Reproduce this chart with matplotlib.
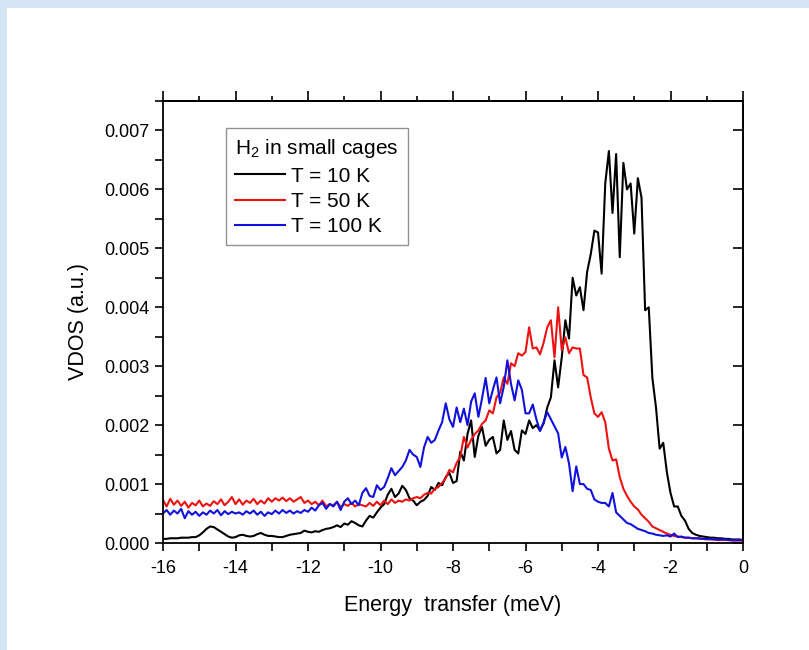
import numpy as np
import matplotlib.pyplot as plt
from matplotlib.patches import Rectangle
from matplotlib.ticker import MultipleLocator, NullFormatter, FormatStrFormatter

plt.rcParams['font.family'] = ['Liberation Sans', 'DejaVu Sans']
plt.rcParams['mathtext.fontset'] = 'custom'
plt.rcParams['mathtext.rm'] = 'Liberation Sans'
plt.rcParams['axes.unicode_minus'] = False

# energy grid (meV), 0.1 meV steps from -16 to 0
energy = np.round(np.arange(-16.0, 0.05, 0.1), 1)

# VDOS values in units of 1e-3 (a.u.)
vdos_10K = [
    0.07, 0.07, 0.08, 0.08, 0.08, 0.09, 0.09, 0.09, 0.10, 0.10,   # -16.0 .. -15.1
    0.13, 0.18, 0.24, 0.28, 0.27, 0.23, 0.19, 0.15, 0.11, 0.09,   # -15.0 .. -14.1
    0.10, 0.13, 0.14, 0.12, 0.11, 0.12, 0.15, 0.17, 0.14, 0.12,   # -14.0 .. -13.1
    0.12, 0.11, 0.10, 0.10, 0.12, 0.14, 0.15, 0.16, 0.17, 0.21,   # -13.0 .. -12.1
    0.19, 0.18, 0.20, 0.19, 0.22, 0.24, 0.25, 0.27, 0.30, 0.27,   # -12.0 .. -11.1
    0.33, 0.31, 0.37, 0.34, 0.30, 0.28, 0.38, 0.46, 0.43, 0.52,   # -11.0 .. -10.1
    0.60, 0.66, 0.82, 0.92, 0.78, 0.84, 0.97, 0.90, 0.76, 0.72,   # -10.0 .. -9.1
    0.64, 0.70, 0.73, 0.80, 0.95, 0.90, 1.02, 0.98, 1.12, 1.19,   # -9.0 .. -8.1
    1.02, 1.05, 1.55, 1.40, 1.85, 2.08, 1.46, 1.82, 1.97, 1.65,   # -8.0 .. -7.1
    1.75, 1.80, 1.52, 1.58, 2.08, 1.75, 1.90, 1.58, 1.52, 1.91,   # -7.0 .. -6.1
    1.85, 2.08, 1.95, 2.00, 1.91, 2.03, 2.30, 2.47, 3.10, 2.64,   # -6.0 .. -5.1
    3.15, 3.78, 3.47, 4.50, 4.20, 4.34, 3.95, 4.60, 4.90, 5.30,   # -5.0 .. -4.1
    5.27, 4.57, 6.10, 6.65, 5.60, 6.60, 4.85, 6.45, 6.00, 6.10,   # -4.0 .. -3.1
    5.25, 6.19, 5.86, 3.95, 4.00, 2.80, 2.30, 1.60, 1.70, 1.20,   # -3.0 .. -2.1
    0.85, 0.62, 0.62, 0.46, 0.38, 0.24, 0.17, 0.14, 0.12, 0.11,   # -2.0 .. -1.1
    0.10, 0.09, 0.09, 0.08, 0.08, 0.07, 0.07, 0.06, 0.06, 0.06,   # -1.0 .. -0.1
    0.05,
]

vdos_50K = [
    0.73, 0.62, 0.75, 0.65, 0.72, 0.63, 0.70, 0.60, 0.68, 0.64,
    0.72, 0.62, 0.67, 0.63, 0.71, 0.66, 0.74, 0.64, 0.70, 0.78,
    0.66, 0.74, 0.65, 0.72, 0.68, 0.75, 0.66, 0.72, 0.67, 0.76,
    0.70, 0.76, 0.72, 0.77, 0.71, 0.76, 0.70, 0.74, 0.78, 0.68,
    0.72, 0.66, 0.70, 0.64, 0.72, 0.62, 0.66, 0.64, 0.70, 0.61,
    0.66, 0.63, 0.68, 0.62, 0.66, 0.64, 0.62, 0.68, 0.63, 0.70,
    0.64, 0.72, 0.66, 0.74, 0.68, 0.72, 0.70, 0.74, 0.72, 0.76,
    0.78, 0.76, 0.82, 0.85, 0.84, 0.92, 0.95, 1.02, 1.10, 1.24,
    1.20, 1.36, 1.46, 1.80, 1.62, 1.75, 1.85, 1.91, 2.02, 2.08,
    2.25, 2.20, 2.47, 2.55, 2.81, 2.70, 3.05, 3.00, 3.22, 3.18,
    3.24, 3.66, 3.30, 3.32, 3.20, 3.40, 3.66, 3.78, 3.15, 4.00,
    3.27, 3.49, 3.22, 3.32, 3.30, 3.30, 2.85, 2.81, 2.47, 2.20,
    2.14, 2.22, 2.05, 1.60, 1.40, 1.42, 1.12, 0.92, 0.80, 0.70,
    0.62, 0.57, 0.48, 0.42, 0.36, 0.28, 0.25, 0.22, 0.19, 0.16,
    0.14, 0.12, 0.11, 0.10, 0.09, 0.09, 0.08, 0.08, 0.07, 0.07,
    0.06, 0.06, 0.06, 0.05, 0.05, 0.05, 0.05, 0.04, 0.04, 0.04,
    0.04,
]

vdos_100K = [
    0.50, 0.56, 0.48, 0.55, 0.50, 0.58, 0.42, 0.54, 0.48, 0.53,
    0.46, 0.52, 0.48, 0.55, 0.50, 0.56, 0.47, 0.54, 0.49, 0.53,
    0.50, 0.52, 0.48, 0.54, 0.50, 0.55, 0.48, 0.53, 0.46, 0.52,
    0.49, 0.55, 0.50, 0.56, 0.51, 0.55, 0.50, 0.54, 0.51, 0.56,
    0.53, 0.60, 0.55, 0.64, 0.68, 0.58, 0.66, 0.62, 0.70, 0.56,
    0.70, 0.76, 0.66, 0.72, 0.64, 0.85, 0.93, 0.80, 0.78, 0.98,
    0.90, 0.95, 1.10, 1.27, 1.15, 1.22, 1.29, 1.40, 1.58, 1.50,
    1.46, 1.29, 1.62, 1.80, 1.70, 1.75, 1.91, 2.05, 2.37, 2.10,
    1.97, 2.30, 2.05, 2.28, 2.00, 2.40, 2.54, 2.14, 2.45, 2.80,
    2.37, 2.60, 2.81, 2.37, 2.65, 3.10, 2.70, 2.42, 2.76, 2.60,
    2.20, 2.20, 2.35, 2.10, 1.90, 2.05, 2.22, 2.10, 1.98, 1.86,
    1.45, 1.63, 1.35, 0.88, 1.30, 1.00, 1.00, 0.92, 0.90, 0.74,
    0.70, 0.68, 0.68, 0.62, 0.85, 0.52, 0.46, 0.40, 0.34, 0.32,
    0.28, 0.24, 0.22, 0.20, 0.17, 0.16, 0.14, 0.13, 0.12, 0.13,
    0.11, 0.16, 0.10, 0.11, 0.09, 0.09, 0.08, 0.08, 0.08, 0.07,
    0.07, 0.07, 0.06, 0.06, 0.06, 0.06, 0.05, 0.05, 0.05, 0.05,
    0.05,
]

labels = ['T = 10 K', 'T = 50 K', 'T = 100 K']
colors = ['black', '#ee1111', '#1111dd']

fig = plt.figure(figsize=(8.09, 6.5), dpi=100)
fig.patch.set_facecolor('#d3e5f4')
fig.patches.append(Rectangle((7 / 809, 0), 1 - 7 / 809, 1 - 8 / 650,
                             transform=fig.transFigure, facecolor='white',
                             edgecolor='none', zorder=-10))

ax = fig.add_axes([163 / 809, 1 - 543 / 650, 580 / 809, 442 / 650])
ax.set_facecolor('none')
for y, lab, c in zip([vdos_10K, vdos_50K, vdos_100K], labels, colors):
    ax.plot(energy, np.array(y) * 1e-3, color=c, lw=1.5, label=lab)

ax.set_xlim(-16, 0)
ax.set_ylim(0, 0.0075)
ax.xaxis.set_major_locator(MultipleLocator(2))
ax.xaxis.set_minor_locator(MultipleLocator(1))
ax.yaxis.set_major_locator(MultipleLocator(0.001))
ax.yaxis.set_minor_locator(MultipleLocator(0.0005))
ax.yaxis.set_major_formatter(FormatStrFormatter('%.3f'))
ax.tick_params(which='both', direction='out', length=6, width=1.2, labelsize=13,
               top=False, right=False)
ax.tick_params(axis='x', pad=6)
for s in ax.spines.values():
    s.set_linewidth(1.3)

# top axis: outward ticks, short minors; right axis: inward majors only
top = ax.secondary_xaxis('top')
top.xaxis.set_major_locator(MultipleLocator(2))
top.xaxis.set_minor_locator(MultipleLocator(1))
top.xaxis.set_major_formatter(NullFormatter())
top.tick_params(which='major', direction='out', length=7, width=1.2)
top.tick_params(which='minor', direction='out', length=3.5, width=1.2)
right = ax.secondary_yaxis('right')
right.yaxis.set_major_locator(MultipleLocator(0.001))
right.yaxis.set_major_formatter(NullFormatter())
right.tick_params(which='major', direction='in', length=7, width=1.2)
for sa in (top, right):
    for s in sa.spines.values():
        s.set_linewidth(1.3)

ax.set_xlabel('Energy  transfer (meV)', fontsize=15.5, labelpad=13)
ax.set_ylabel('VDOS (a.u.)', fontsize=15.5, labelpad=11)

leg = ax.legend(title='H$_2$ in small cages', loc='upper left',
                bbox_to_anchor=(0.1086, 0.939), borderaxespad=0,
                fontsize=15, title_fontsize=15, fancybox=False,
                edgecolor='#777777', handlelength=2.4, handletextpad=0.25,
                labelspacing=0.3, borderpad=0.45, alignment='left')
leg.get_frame().set_linewidth(1.0)

fig.savefig('out.png', dpi=100, facecolor=fig.get_facecolor())
